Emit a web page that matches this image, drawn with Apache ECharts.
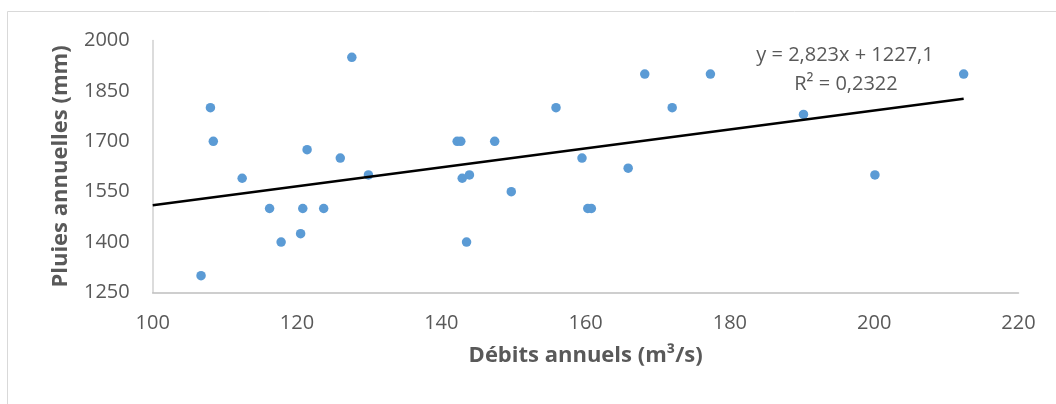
<!DOCTYPE html>
<html>
<head>
<meta charset="utf-8">
<script src="https://cdn.jsdelivr.net/npm/echarts@6/dist/echarts.min.js"></script>
<style>
html,body{margin:0;padding:0;background:#fff;}
#chart{width:1056px;height:404px;}
</style>
</head>
<body>
<div id="chart"></div>
<script>
// Débits annuels (m³/s)
const debits = [127.6, 108.0, 108.4, 121.4, 126.0, 129.9, 112.4, 116.2, 120.8, 123.7, 120.5, 117.8, 106.7,
  168.2, 177.3, 155.9, 172.0, 142.2, 142.7, 147.4, 159.5, 165.9, 142.9, 143.9, 149.7, 160.3, 160.8, 143.5,
  190.2, 200.1, 212.4];
// Pluies annuelles (mm)
const pluies = [1950, 1800, 1700, 1675, 1650, 1600, 1590, 1500, 1500, 1500, 1425, 1400, 1300,
  1900, 1900, 1800, 1800, 1700, 1700, 1700, 1650, 1620, 1590, 1600, 1550, 1500, 1500, 1400,
  1780, 1600, 1900];
// Trendline (as printed on the chart)
const trendSlope = 2.823;
const trendIntercept = 1227.1;
const trendRange = [100, 212.4];
const equationText = 'y = 2,823x + 1227,1';
const r2Text = 'R² = 0,2322';
const xTicks = {min: 100, max: 220, interval: 20};
const yTicks = {min: 1250, max: 2000, interval: 150};

const points = debits.map((x, i) => [x, pluies[i]]);
const trend = trendRange.map(x => [x, trendSlope * x + trendIntercept]);

const txt = '#595959';
const font = '"Open Sans", "Liberation Sans", sans-serif';
const chart = echarts.init(document.getElementById('chart'), null, {renderer: 'canvas'});
chart.setOption({
  animation: false,
  backgroundColor: '#fff',
  grid: {left: 152.7, right: 37.5, top: 40.5, bottom: 111.5},
  xAxis: {
    type: 'value', min: xTicks.min, max: xTicks.max, interval: xTicks.interval,
    name: 'Débits annuels (m³/s)', nameLocation: 'middle', nameGap: 52,
    nameTextStyle: {color: txt, fontFamily: font, fontSize: 22, fontWeight: 'bold'},
    axisLine: {show: true, lineStyle: {color: '#bfbfbf', width: 1.5}},
    axisTick: {show: false},
    splitLine: {show: false},
    axisLabel: {color: txt, fontFamily: font, fontSize: 20, margin: 21, formatter: v => String(v)}
  },
  yAxis: {
    type: 'value', min: yTicks.min, max: yTicks.max, interval: yTicks.interval,
    name: 'Pluies annuelles (mm)', nameLocation: 'middle', nameGap: 81,
    nameTextStyle: {color: txt, fontFamily: font, fontSize: 22, fontWeight: 'bold'},
    axisLine: {show: true, lineStyle: {color: '#d0d0d0', width: 1.5}},
    axisTick: {show: false},
    splitLine: {show: false},
    axisLabel: {color: txt, fontFamily: font, fontSize: 20, margin: 23, formatter: v => String(v)}
  },
  series: [
    {
      type: 'scatter', data: points, symbol: 'circle', symbolSize: 9.5,
      itemStyle: {color: '#5b9bd5', opacity: 1}, z: 2
    },
    {
      type: 'line', data: trend, showSymbol: false, symbol: 'none',
      lineStyle: {color: '#000', width: 2.5}, z: 3, silent: true
    }
  ],
  graphic: [
    {type: 'rect', shape: {x: 7.5, y: 11.5, width: 1200, height: 600}, style: {fill: 'none', stroke: '#d9d9d9', lineWidth: 1}, z: -1},
    {type: 'text', x: 845, y: 55, style: {text: equationText, fill: txt, font: '20px ' + font, align: 'center', verticalAlign: 'middle'}},
    {type: 'text', x: 846, y: 84, style: {text: r2Text, fill: txt, font: '20px ' + font, align: 'center', verticalAlign: 'middle'}}
  ]
});
</script>
</body>
</html>
